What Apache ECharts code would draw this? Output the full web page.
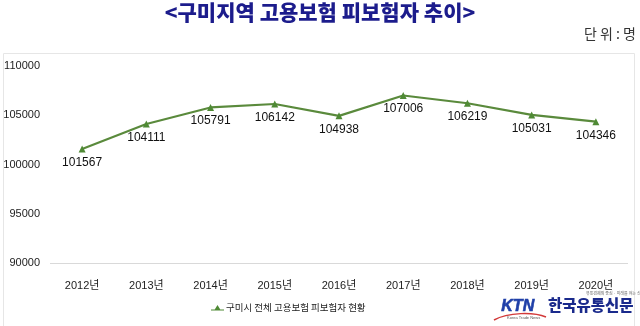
<!DOCTYPE html>
<html>
<head>
<meta charset="utf-8">
<script src="https://cdn.jsdelivr.net/npm/echarts@6/dist/echarts.min.js"></script>
<style>
  html, body { margin: 0; padding: 0; background: #ffffff; }
  #chart { width: 640px; height: 326px; }
</style>
</head>
<body>
<div id="chart"></div>
<script>
// Year categories and insured-worker counts for Gumi
const years = ['2012년', '2013년', '2014년', '2015년', '2016년', '2017년', '2018년', '2019년', '2020년'];
const insured = [101567, 104111, 105791, 106142, 104938, 107006, 106219, 105031, 104346];
const seriesName = '구미시 전체 고용보험 피보험자 현황';
const yTicks = [90000, 95000, 100000, 105000, 110000];

const latin = "'Liberation Sans Narrow', 'Liberation Sans', 'Noto Sans CJK KR', sans-serif";
const korean = "'Noto Sans CJK KR', sans-serif";
const chart = echarts.init(document.getElementById('chart'), null, { renderer: 'canvas' });

chart.setOption({
  backgroundColor: '#ffffff',
  animation: false,
  title: {
    text: '<구미지역 고용보험 피보험자 추이>',
    left: 'center',
    top: -3,
    textStyle: { fontFamily: korean, fontSize: 21, fontWeight: 900, color: '#1c1c8c' }
  },
  graphic: [
    {
      type: 'text', right: 4, top: 27,
      style: { text: '단 위 : 명', fontFamily: korean, fontSize: 14, fill: '#333333' }
    },
    {
      type: 'rect', shape: { x: 3.5, y: 53.5, width: 631, height: 290 },
      style: { fill: 'none', stroke: '#e6e6e6', lineWidth: 1 }, z: -1
    },
    // KTN wordmark
    {
      type: 'text', left: 501, top: 298,
      style: { text: 'KTN', fontFamily: "'Liberation Sans', sans-serif", fontSize: 16, fontWeight: 900, fontStyle: 'italic', fill: '#1f3fa8', stroke: '#1f3fa8', lineWidth: 0.6 }
    },
    {
      type: 'bezierCurve',
      shape: { x1: 494, y1: 320, x2: 546, y2: 317, cpx1: 508, cpy1: 312, cpx2: 534, cpy2: 312 },
      style: { stroke: '#d23a3a', lineWidth: 1.5, fill: 'none' }
    },
    {
      type: 'text', left: 507, top: 316,
      style: { text: 'Korea Trade News', fontFamily: "'Liberation Sans', sans-serif", fontSize: 4, fill: '#555555' }
    },
    {
      type: 'text', left: 586, top: 291,
      style: { text: '유통경제의 중심 · 미래를 여는 신문', fontFamily: korean, fontSize: 4, fill: '#666666' }
    },
    {
      type: 'text', left: 548, top: 297,
      style: { text: '한국유통신문', fontFamily: korean, fontSize: 15.5, fontWeight: 900, fill: '#1a2a8c' }
    }
  ],
  legend: {
    data: [{ name: seriesName, icon: 'path://M0,5 L4,5 L7,0 L10,5 L14,5 L14,6 L10,6 L7,6 L4,6 L0,6 Z' }],
    left: 206, top: 298,
    itemWidth: 13, itemHeight: 7, itemGap: 1,
    textStyle: { fontFamily: korean, fontSize: 9.5, color: '#222222', padding: [0, 0, 0, -3] }
  },
  grid: { left: 50, right: 12, top: 66, bottom: 63, containLabel: false },
  xAxis: {
    type: 'category',
    data: years,
    boundaryGap: true,
    axisLine: { show: false },
    axisTick: { show: false },
    axisLabel: { margin: 17, fontFamily: latin, fontSize: 11, color: '#222222' }
  },
  yAxis: {
    type: 'value',
    min: yTicks[0],
    max: yTicks[yTicks.length - 1],
    interval: 5000,
    axisLine: { show: false },
    axisTick: { show: false },
    splitLine: {
      show: true,
      lineStyle: { color: ['#d9d9d9', 'transparent', 'transparent', 'transparent', 'transparent'] }
    },
    axisLabel: {
      margin: 10,
      fontFamily: latin,
      fontSize: 11,
      color: '#222222',
      formatter: v => String(v)
    }
  },
  series: [{
    name: seriesName,
    type: 'line',
    data: insured,
    symbol: 'triangle',
    symbolSize: 7,
    itemStyle: { color: '#4f8a35' },
    lineStyle: { color: '#5a8a3c', width: 2.2 },
    label: {
      show: true,
      position: 'bottom',
      distance: 4,
      fontFamily: latin,
      fontSize: 12,
      color: '#111111',
      formatter: p => String(p.value)
    }
  }]
});
</script>
</body>
</html>
